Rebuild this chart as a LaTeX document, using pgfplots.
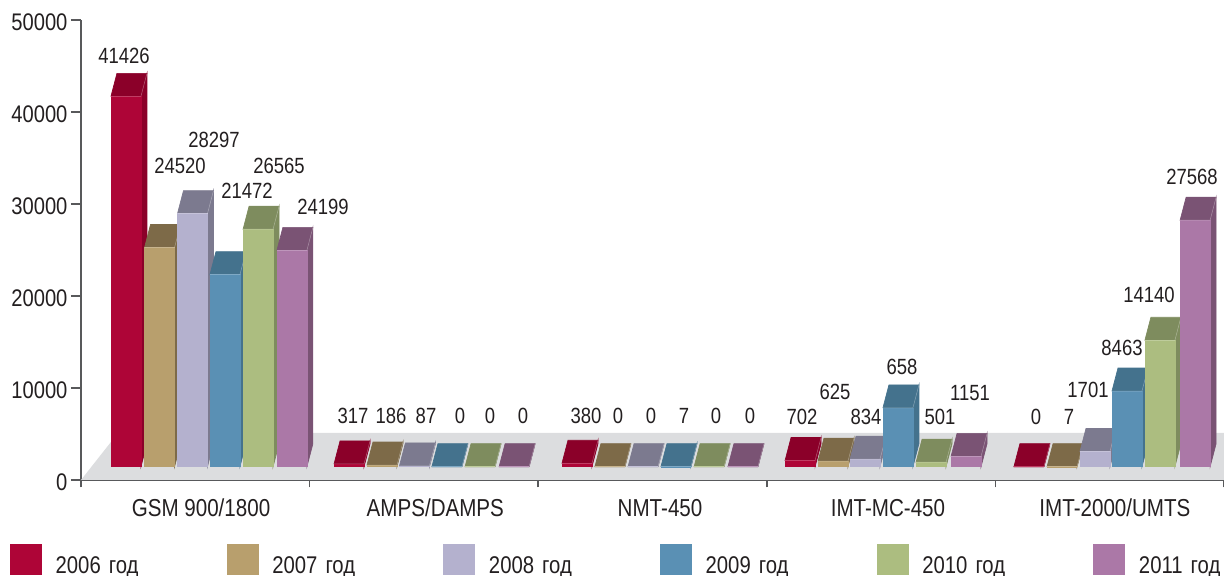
\documentclass[border=0pt]{standalone}
\usepackage{fontspec}
\setmainfont[FakeStretch=0.84]{Liberation Sans}
\usepackage{pgfplots}
\pgfplotsset{compat=1.18}
\definecolor{txt}{HTML}{231F20}
\definecolor{axln}{HTML}{58595B}
\definecolor{floorc}{HTML}{DCDDDF}
\definecolor{fa}{HTML}{AE0537}\definecolor{ta}{HTML}{8B0029}
\definecolor{fb}{HTML}{B89F6D}\definecolor{tb}{HTML}{7D6A48}
\definecolor{fc}{HTML}{B4B1CE}\definecolor{tc}{HTML}{7C7A8F}
\definecolor{fd}{HTML}{5A90B4}\definecolor{td}{HTML}{44728D}
\definecolor{fe}{HTML}{ACBD80}\definecolor{te}{HTML}{7E8C5E}
\definecolor{ff}{HTML}{AB78A7}\definecolor{tf}{HTML}{7A5374}
% 1 image pixel = 0.6pt; x = category units, y = axis units
\pgfdeclareplotmark{nothing}{}
\pgfplotsset{
  bar3d/.style n args={2}{
    only marks, scatter, mark=nothing,
    visualization depends on={value \thisrow{y} \as \val},
    scatter/@pre marker code/.code={%
      \edef\yb{\fpeval{round((13.3-0.0092*\val)*0.6,3)}}%
      \edef\yt{\fpeval{round((13.3-0.00026*\val)*0.6,3)}}%
      \edef\ybb{\fpeval{\yb+13.8}}%
      \edef\ytt{\fpeval{\yt+13.8}}%
      \fill[#2] (18pt,\yb pt) -- (21.6pt,\ybb pt) -- (21.6pt,\ytt pt) -- (18pt,\yt pt) -- cycle;
      \fill[#2] (0pt,\yt pt) -- (3.6pt,\ytt pt) -- (21.6pt,\ytt pt) -- (18pt,\yt pt) -- cycle;
      \fill[#1] (0pt,\yb pt) rectangle (18pt,\yt pt);
      \draw[white,opacity=0.35,line width=0.3pt] (0pt,\yt pt) -- (18pt,\yt pt) -- (21.6pt,\ytt pt);
    },
    scatter/@post marker code/.code={},
    legend image code/.code={\fill[#1] (0pt,-4.8pt) rectangle (18.6pt,13.2pt);},
  },
}
\newcommand\lab[3]{\node[text=txt,font=\fontsize{13.2pt}{14pt}\selectfont,inner sep=0pt] at ({#1*0.6pt},{(576-#2)*0.6pt}) {#3};}
\begin{document}
\begin{tikzpicture}
\path[use as bounding box] (0,0) rectangle (734.4pt,345.6pt);
\begin{axis}[
  at={(48.6pt,57.6pt)}, anchor=south west,
  scale only axis, width=685.8pt, height=276pt,
  xmin=0, xmax=5, ymin=0, ymax=50000,
  enlargelimits=false, clip=false,
  axis lines*=left, axis line style={-,axln,line width=1.1pt},
  tick align=outside,
  ytick={0,10000,...,50000},
  scaled y ticks=false,
  ytick style={axln,line width=1pt},
  major tick length=6pt,
  yticklabel style={font=\fontsize{14.4pt}{15pt}\selectfont,text=txt,xshift=1.4pt,yshift=-1.5pt},
  /pgf/number format/assume math mode=true,
  /pgf/number format/1000 sep={},
  xtick={0.525,1.55,2.533,3.53,4.523},
  xticklabels={GSM 900/1800,AMPS/DAMPS,NMT-450,IMT-MC-450,IMT-2000/UMTS},
  xticklabel style={font=\fontsize{14.7pt}{15pt}\selectfont,text=txt,yshift=-2pt},
  major x tick style={draw=none},
  minor xtick={0,1,2,3,4,5},
  minor x tick style={axln,line width=1pt},
  minor tick length=4.5pt,
  legend columns=6,
  legend cell align=left,
  legend style={
    at={(rel axis cs:0,0)}, anchor=west, xshift=-42.6pt, yshift=-47.8pt,
    draw=none, fill=none, inner sep=0pt, outer sep=0pt,
    font=\fontsize{14.5pt}{15pt}\selectfont, text=txt,
    /tikz/every odd column/.append style={column sep=8.4pt},
    nodes={inner xsep=0pt,inner ysep=0pt,text width=102.6pt,align=left},
  },
]
% floor
\addplot[fill=floorc,draw=none,forget plot] coordinates {(0,0) (5,0) (5,5109) (0.162,5109) (0,0)};

\addplot[bar3d={fa}{ta}] table {
x y
0.131 41426
1.107 317
2.104 380
3.080 702
4.081 0
};
\addlegendentry{2006 год}
\addplot[bar3d={fb}{tb}] table {
x y
0.278 24520
1.251 186
2.248 0
3.224 625
4.226 7
};
\addlegendentry{2007 год}
\addplot[bar3d={fc}{tc}] table {
x y
0.422 28297
1.393 87
2.393 0
3.364 834
4.370 1701
};
\addlegendentry{2008 год}
\addplot[bar3d={fd}{td}] table {
x y
0.564 21472
1.535 0
2.537 7
3.508 6580
4.510 8463
};
\addlegendentry{2009 год}
\addplot[bar3d={fe}{te}] table {
x y
0.709 26565
1.680 0
2.682 0
3.653 501
4.654 14140
};
\addlegendentry{2010 год}
\addplot[bar3d={ff}{tf}] table {
x y
0.857 24199
1.829 0
2.830 0
3.806 1151
4.808 27568
};
\addlegendentry{2011 год}
\end{axis}
% value labels, placed by hand as in the picture
\lab{124}{56}{41426}\lab{180}{166}{24520}\lab{214}{140}{28297}
\lab{247}{191}{21472}\lab{279}{166}{26565}\lab{323}{207}{24199}
\lab{353}{416}{317}\lab{391}{416}{186}\lab{426}{416}{87}
\lab{460}{416}{0}\lab{490}{416}{0}\lab{523}{416}{0}
\lab{586}{416}{380}\lab{618}{416}{0}\lab{651}{416}{0}
\lab{684}{416}{7}\lab{716}{416}{0}\lab{750}{416}{0}
\lab{802}{417}{702}\lab{835}{392}{625}\lab{866}{417}{834}
\lab{902}{367}{658}\lab{940}{417}{501}\lab{970}{393}{1151}
\lab{1036}{417}{0}\lab{1069}{417}{7}\lab{1088}{390}{1701}
\lab{1122}{348}{8463}\lab{1149}{295}{14140}\lab{1192}{177}{27568}
\end{tikzpicture}
\end{document}
